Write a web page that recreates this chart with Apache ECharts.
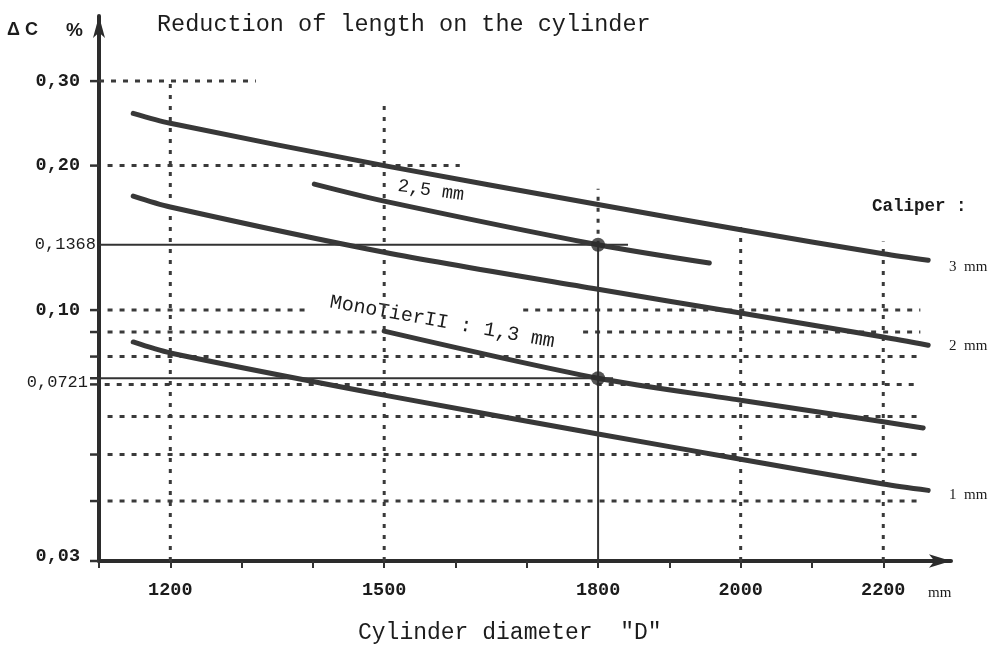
<!DOCTYPE html>
<html>
<head>
<meta charset="utf-8">
<title>Reduction of length on the cylinder</title>
<script src="https://cdn.jsdelivr.net/npm/echarts@6/dist/echarts.min.js"></script>
<style>
  html, body { margin: 0; padding: 0; background: #ffffff; }
  #chart { width: 997px; height: 656px; }
</style>
</head>
<body>
<div id="chart"></div>
<script>
// ---- axis extents (mm on x, % on a log y axis) ----
const X_MIN = 1100;
const X_MAX = 2295;
const Y_MIN = 0.03;
const Y_MAX = 0.41;

// ---- tick marks and labels ----
const xTickValues = [1100, 1200, 1300, 1400, 1500, 1600, 1700, 1800, 1900, 2000, 2100, 2200];
const xLabelValues = [1200, 1500, 1800, 2000, 2200];
const yTickValues = [0.03, 0.04, 0.05, 0.07, 0.0721, 0.08, 0.09, 0.10, 0.20, 0.30];
const yLabelValues = [0.03, 0.0721, 0.10, 0.1368, 0.20, 0.30];
const yLabelTexts = ['0,03', '0,0721', '0,10', '0,1368', '0,20', '0,30'];

// ---- caliper curves: cylinder diameter (mm) -> reduction of length (%) ----
const caliper3mmD = [1148, 1200, 1500, 1800, 2000, 2200, 2263];
const caliper3mmC = [0.257, 0.245, 0.200, 0.166, 0.147, 0.131, 0.127];

const caliper25mmD = [1402, 1500, 1800, 1956];
const caliper25mmC = [0.183, 0.1687, 0.1368, 0.1253];

const caliper2mmD = [1148, 1200, 1500, 1800, 2000, 2200, 2263];
const caliper2mmC = [0.1728, 0.164, 0.132, 0.1105, 0.0986, 0.0879, 0.0845];

const monoTier13mmD = [1500, 1800, 2000, 2200, 2256];
const monoTier13mmC = [0.0904, 0.0721, 0.0649, 0.0585, 0.0568];

const caliper1mmD = [1148, 1200, 1500, 1800, 2000, 2200, 2263];
const caliper1mmC = [0.0858, 0.0814, 0.0665, 0.0552, 0.0489, 0.0434, 0.0421];

// ---- reading at D = 1800 mm ----
const readD = 1800;
const readC = [0.1368, 0.0721];
const readLineEnd = [1842, 1821];

// ---- dotted reference grid: [level %, from mm, to mm] ----
const hGridLevels = [0.30, 0.20, 0.10, 0.10, 0.09, 0.09, 0.08, 0.07, 0.06, 0.05, 0.04];
const hGridFrom   = [1100, 1112, 1112, 1695, 1112, 1779, 1112, 1108, 1112, 1112, 1112];
const hGridTo     = [1320, 1606, 1398, 2252, 1490, 2252, 2252, 2252, 2252, 2252, 2252];

// vertical dotted lines: [diameter mm, from %, to %]
const vGridD    = [1200, 1500, 1800, 2000, 2200];
const vGridFrom = [0.03, 0.03, 0.1368, 0.03, 0.03];
const vGridTo   = [0.30, 0.274, 0.179, 0.152, 0.139];

const INK = '#333333';
const TEXT = '#1c1c1c';
const MONO = '"Liberation Mono", "DejaVu Sans Mono", monospace';
const SERIF = '"Liberation Serif", "DejaVu Serif", serif';

function pairs(xs, ys) {
  return xs.map((x, i) => [x, ys[i]]);
}

const series = [];

// horizontal dotted lines
hGridLevels.forEach((lvl, i) => {
  series.push({
    type: 'line', silent: true, symbol: 'none', z: 1,
    data: [[hGridFrom[i], lvl], [hGridTo[i], lvl]],
    lineStyle: { color: '#3a3a3a', width: 3, type: [5, 7] }
  });
});

// vertical dotted lines
vGridD.forEach((d, i) => {
  series.push({
    type: 'line', silent: true, symbol: 'none', z: 1,
    data: [[d, vGridFrom[i]], [d, vGridTo[i]]],
    lineStyle: { color: '#3a3a3a', width: 3, type: [4, 7] }
  });
});

// solid reading lines
readC.forEach((c, i) => {
  series.push({
    type: 'line', silent: true, symbol: 'none', z: 2,
    data: [[X_MIN, c], [readLineEnd[i], c]],
    lineStyle: { color: INK, width: 2 }
  });
});
series.push({
  type: 'line', silent: true, symbol: 'none', z: 2,
  data: [[readD, Y_MIN], [readD, readC[0]]],
  lineStyle: { color: INK, width: 2 }
});

// curves
[
  ['3 mm', caliper3mmD, caliper3mmC],
  ['2,5 mm', caliper25mmD, caliper25mmC],
  ['2 mm', caliper2mmD, caliper2mmC],
  ['MonoTierII 1,3 mm', monoTier13mmD, monoTier13mmC],
  ['1 mm', caliper1mmD, caliper1mmC]
].forEach(([name, d, c]) => {
  series.push({
    name: name, type: 'line', symbol: 'none', z: 3,
    smooth: 0.3,
    data: pairs(d, c),
    lineStyle: { color: '#383838', width: 5, cap: 'round' }
  });
});

// reading points
series.push({
  type: 'scatter', z: 4, symbolSize: 14,
  data: readC.map(c => [readD, c]),
  itemStyle: { color: '#2a2a2a' }
});

// y-axis tick stubs
series.push({
  type: 'custom', z: 5, silent: true,
  data: yTickValues.map(v => [X_MIN, v]),
  renderItem: function (params, api) {
    const p = api.coord([api.value(0), api.value(1)]);
    return {
      type: 'line',
      shape: { x1: p[0] - 9, y1: p[1], x2: p[0], y2: p[1] },
      style: { stroke: INK, lineWidth: 2.5 }
    };
  }
});

// y-axis labels
series.push({
  type: 'custom', z: 5, silent: true,
  data: yLabelValues.map(v => [X_MIN, v]),
  renderItem: function (params, api) {
    const p = api.coord([api.value(0), api.value(1)]);
    const txt = yLabelTexts[params.dataIndex];
    const long = txt.length > 4;
    return {
      type: 'text',
      x: p[0] - (long ? (txt === '0,1368' ? 3 : 11) : 19),
      y: p[1] + (txt === '0,03' ? -5 : (txt === '0,0721' ? 4 : 0)),
      style: {
        text: txt,
        font: (long ? 'normal 17px ' : 'bold 18.5px ') + MONO,
        fill: TEXT,
        align: 'right', verticalAlign: 'middle',
        textAlign: 'right', textVerticalAlign: 'middle'
      }
    };
  }
});

const option = {
  animation: false,
  backgroundColor: '#ffffff',
  grid: { left: 99, right: 46, top: 16, bottom: 95, containLabel: false },
  xAxis: {
    type: 'value',
    min: X_MIN, max: X_MAX, interval: 100,
    axisLine: {
      show: true, onZero: false,
      symbol: ['none', 'arrow'], symbolSize: [10, 22],
      lineStyle: { color: '#2c2c2c', width: 4 }
    },
    axisTick: {
      show: true, customValues: xTickValues, length: 7, inside: false,
      lineStyle: { color: INK, width: 2 }
    },
    axisLabel: {
      show: true, customValues: xLabelValues, margin: 20,
      formatter: function (v) { return String(v); },
      color: TEXT, fontFamily: MONO, fontSize: 18.5, fontWeight: 'bold'
    },
    splitLine: { show: false }
  },
  yAxis: {
    type: 'log', logBase: 10,
    min: Y_MIN, max: Y_MAX,
    axisLine: {
      show: true, onZero: false,
      symbol: ['none', 'arrow'], symbolSize: [9, 22],
      lineStyle: { color: '#2c2c2c', width: 4 }
    },
    axisTick: { show: false },
    axisLabel: { show: false },
    splitLine: { show: false },
    minorSplitLine: { show: false }
  },
  graphic: [
    { type: 'text', x: 7, y: 30, style: { text: 'Δ C', font: 'bold 18px "Liberation Sans", sans-serif', fill: TEXT, verticalAlign: 'middle', textVerticalAlign: 'middle' } },
    { type: 'text', x: 66, y: 31, style: { text: '%', font: 'bold 19px "Liberation Sans", sans-serif', fill: TEXT, verticalAlign: 'middle', textVerticalAlign: 'middle' } },
    { type: 'text', x: 157, y: 25, style: { text: 'Reduction of length on the cylinder', font: 'normal 23.5px ' + MONO, fill: TEXT, verticalAlign: 'middle', textVerticalAlign: 'middle' } },
    { type: 'text', x: 872, y: 207, style: { text: 'Caliper :', font: 'bold 17.5px ' + MONO, fill: TEXT, verticalAlign: 'middle', textVerticalAlign: 'middle' } },
    { type: 'text', x: 949, y: 267, style: { text: '3  mm', font: 'normal 15px ' + SERIF, fill: TEXT, verticalAlign: 'middle', textVerticalAlign: 'middle' } },
    { type: 'text', x: 949, y: 346, style: { text: '2  mm', font: 'normal 15px ' + SERIF, fill: TEXT, verticalAlign: 'middle', textVerticalAlign: 'middle' } },
    { type: 'text', x: 949, y: 495, style: { text: '1  mm', font: 'normal 15px ' + SERIF, fill: TEXT, verticalAlign: 'middle', textVerticalAlign: 'middle' } },
    { type: 'text', x: 928, y: 593, style: { text: 'mm', font: 'normal 15px ' + SERIF, fill: TEXT, verticalAlign: 'middle', textVerticalAlign: 'middle' } },
    { type: 'text', x: 398, y: 186, rotation: -0.14, style: { text: '2,5 mm', font: 'normal 18.5px ' + MONO, fill: TEXT, verticalAlign: 'middle', textVerticalAlign: 'middle' } },
    { type: 'text', x: 330, y: 302, rotation: -0.176, style: { text: 'MonoTierII : 1,3 mm', font: 'normal 20px ' + MONO, fill: TEXT, verticalAlign: 'middle', textVerticalAlign: 'middle' } },
    { type: 'text', x: 358, y: 633, style: { text: 'Cylinder diameter  "D"', font: 'normal 23px ' + MONO, fill: TEXT, verticalAlign: 'middle', textVerticalAlign: 'middle' } }
  ],
  series: series
};

const chart = echarts.init(document.getElementById('chart'), null, { renderer: 'canvas' });
chart.setOption(option);
</script>
</body>
</html>
